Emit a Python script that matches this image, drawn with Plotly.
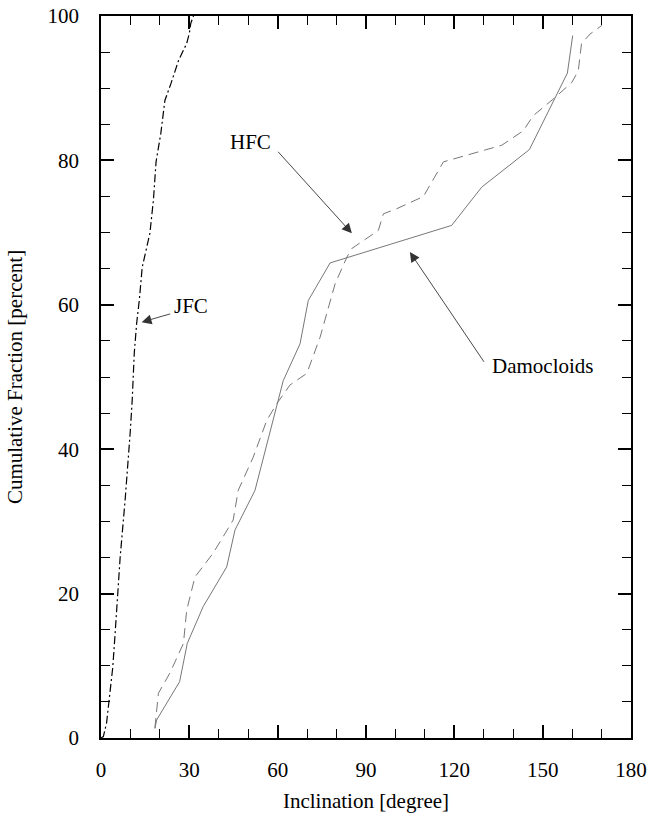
import plotly.graph_objects as go

# JFC (dash-dot)
jfc_x = [0, 0.8, 1.9, 2.7, 4.0, 4.8, 5.4, 5.7, 6.5, 8.2, 9.1, 9.9, 10.6, 11.3, 12.1, 13.0,
         14.0, 16.6, 17.8, 18.7, 20.3, 21.7, 23.8, 26.3, 29.1, 30.0, 30.5, 31.4]
jfc_y = [0, 0.2, 2.1, 5.3, 9.8, 14.5, 18.7, 20.0, 25.0, 33.0, 37.5, 42.2, 46.8, 53.3, 57.4, 60.6,
         65.2, 69.9, 74.5, 79.8, 83.7, 88.3, 90.7, 93.8, 96.2, 97.6, 99.0, 100]

# HFC (dashed)
hfc_x = [18.3, 19.5, 23.4, 28.0, 29.1, 31.9, 38.1, 44.9, 46.6, 51.7, 56.3, 59.7, 64.2, 69.9,
         74.4, 79.5, 83.5, 85.2, 94.2, 95.9, 100.4, 109.5, 116.3, 128.7, 136.1, 143.4, 146.8,
         153.6, 159.9, 162.1, 163.2, 166.1, 170.1]
hfc_y = [1.4, 6.2, 9.0, 13.1, 17.7, 22.3, 25.6, 30.2, 34.3, 38.9, 44.0, 46.3, 48.9, 50.5,
         55.5, 62.9, 66.6, 67.8, 70.3, 72.6, 73.3, 75.0, 79.8, 81.2, 82.1, 84.1, 86.2,
         88.5, 90.8, 92.4, 96.2, 97.5, 98.7]

# Damocloids (solid)
dam_x = [18.3, 18.9, 26.7, 29.3, 34.7, 42.7, 45.5, 52.3, 61.9, 67.6, 70.4, 77.8, 119.1,
         129.3, 145.5, 158.4, 160.2]
dam_y = [1.3, 2.5, 7.8, 13.1, 18.2, 23.7, 28.8, 34.3, 49.5, 54.6, 60.6, 65.8, 71.0,
         76.3, 81.5, 92.1, 97.3]

x_ticks = [0, 30, 60, 90, 120, 150, 180]
y_ticks = [0, 20, 40, 60, 80, 100]

FONT = "Liberation Serif, Times New Roman, serif"
FS = 21

fig = go.Figure()
fig.add_trace(go.Scatter(x=jfc_x, y=jfc_y, mode="lines", name="JFC",
                         line=dict(color="black", width=1.2, dash="8px,3px,2px,3px")))
fig.add_trace(go.Scatter(x=hfc_x, y=hfc_y, mode="lines", name="HFC",
                         line=dict(color="#777777", width=1, dash="10px,6px")))
fig.add_trace(go.Scatter(x=dam_x, y=dam_y, mode="lines", name="Damocloids",
                         line=dict(color="#777777", width=1)))

labels = [
    # text, text_x, text_y, tip_x, tip_y, tail_x, tail_y
    ("JFC", 30.4, 59.9, 13.8, 57.6, 24.0, 58.8),
    ("HFC", 50.8, 82.5, 85.2, 69.9, 59.7, 81.4),
    ("Damocloids", 150.1, 51.5, 104.9, 67.3, 130.4, 51.9),
]
for txt, tx, ty, px, py, qx, qy in labels:
    fig.add_annotation(x=tx, y=ty, text=txt, showarrow=False,
                       font=dict(family=FONT, size=FS, color="black"))
    fig.add_annotation(x=px, y=py, ax=qx, ay=qy, xref="x", yref="y", axref="x", ayref="y",
                       text="", showarrow=True, arrowhead=2, arrowsize=2.2, arrowwidth=0.9,
                       arrowcolor="#333333", standoff=0)

axis_common = dict(
    showgrid=False, zeroline=False, showline=True, linecolor="black", linewidth=1.5,
    mirror="ticks", ticks="inside", ticklen=13, tickwidth=1.5, tickcolor="black",
    tickfont=dict(family=FONT, size=FS, color="black"), automargin=False,
)
fig.update_xaxes(range=[0, 180], tickvals=x_ticks, ticklabelstandoff=12,
                 minor=dict(ticks="inside", ticklen=9, dtick=10, tickwidth=1.3, tickcolor="black"),
                 title=dict(text="Inclination [degree]", font=dict(family=FONT, size=FS, color="black"),
                            standoff=12),
                 **axis_common)
fig.update_yaxes(range=[0, 100], tickvals=y_ticks, ticklabelstandoff=16,
                 minor=dict(ticks="inside", ticklen=9, dtick=5, tickwidth=1.3, tickcolor="black"),
                 title=dict(text="Cumulative Fraction [percent]",
                            font=dict(family=FONT, size=FS, color="black"), standoff=19),
                 **axis_common)

fig.update_layout(
    width=649, height=832, showlegend=False,
    margin=dict(l=101, r=18, t=16, b=94),
    plot_bgcolor="white", paper_bgcolor="white",
    font=dict(family=FONT, size=FS, color="black"),
)
fig.write_html("out.html")
